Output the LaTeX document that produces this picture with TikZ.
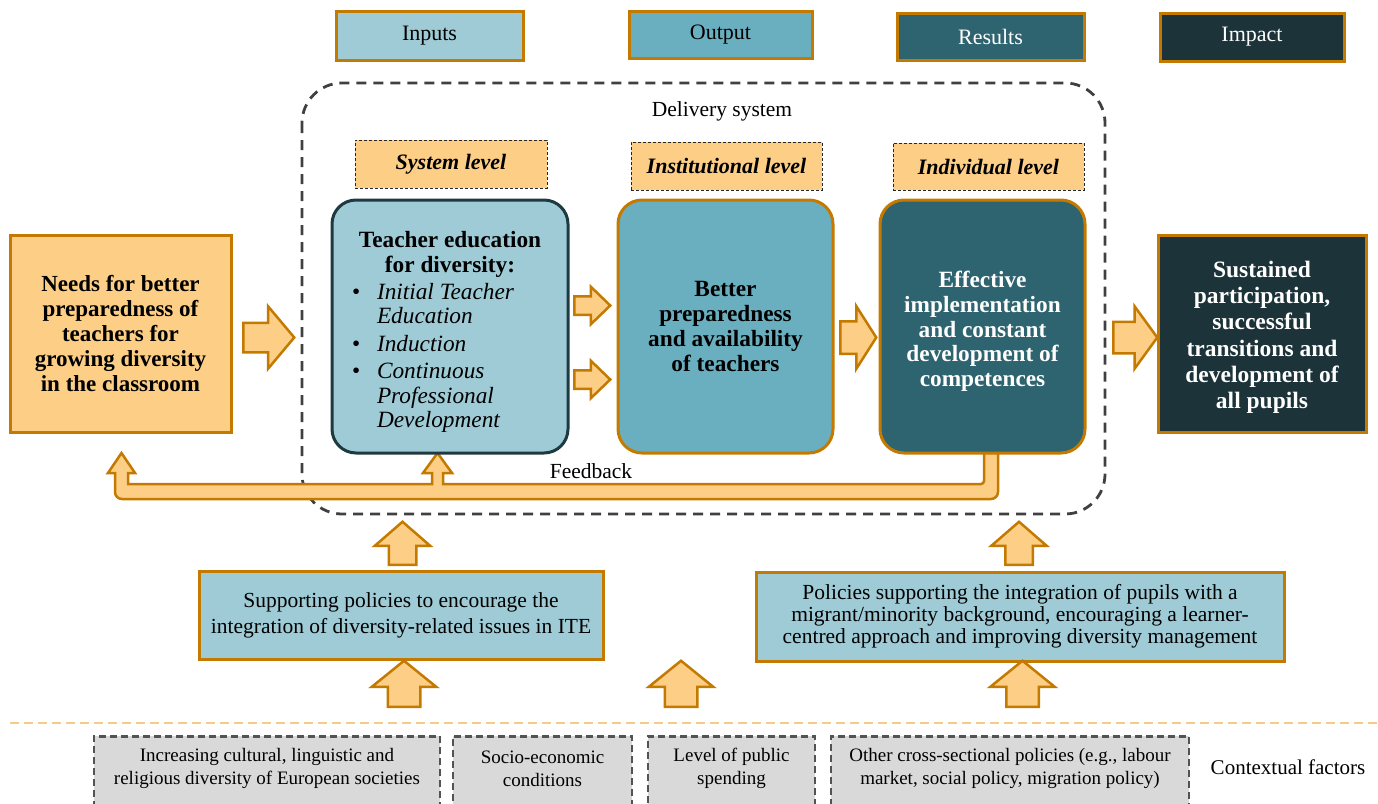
\documentclass[tikz,border=0pt]{standalone}
\usepackage{fontspec}
\setmainfont{Liberation Serif}
\usetikzlibrary{shapes.arrows,calc}
\definecolor{cOr}{HTML}{C47A00}
\definecolor{cLt}{HTML}{FCCE86}
\definecolor{cIn}{HTML}{9ECBD6}
\definecolor{cOut}{HTML}{6AAFC0}
\definecolor{cRes}{HTML}{2E6370}
\definecolor{cImp}{HTML}{1D333A}
\definecolor{cTb}{HTML}{1E3A40}
\definecolor{cDash}{HTML}{404040}
\definecolor{cGray}{HTML}{D9D9D9}
\definecolor{cSep}{HTML}{F7C98A}
\tikzset{
  box/.style={draw=cOr, line width=3pt, inner sep=0pt, align=center},
  legendbox/.style={box, font=\fontsize{22}{24}\selectfont},
  levelbox/.style={draw=black!85, fill=cLt, line width=0.8pt, dash pattern=on 3pt off 2pt, inner sep=0pt, font=\fontsize{22}{24}\selectfont\bfseries\itshape},
  mainbox/.style={box, rounded corners=24pt, font=\fontsize{23.3}{24.7}\selectfont\bfseries},
  sidebox/.style={box, font=\fontsize{23}{25}\selectfont\bfseries},
  polbox/.style={box, fill=cIn, font=\fontsize{21.5}{22}\selectfont},
  ctxbox/.style={draw=cDash!90, fill=cGray, line width=2.5pt, dash pattern=on 7pt off 4pt, inner sep=0pt, align=center},
  ctxtext/.style={align=center, inner sep=0pt, font=\fontsize{19}{23}\selectfont},
  barrow/.style={single arrow, draw=cOr, fill=cLt, line width=2.5pt, inner xsep=0pt, anchor=tail},
}
\begin{document}
\begin{tikzpicture}[x=1pt,y=-1pt]
\useasboundingbox (0,0) rectangle (1378,803);
\clip (0,0) rectangle (1378,803);
% legend
\node[legendbox, fill=cIn, minimum width=187pt, minimum height=49pt] (inputs) at (429.5,35.5) {Inputs};
\node[legendbox, fill=cOut, minimum width=183pt, minimum height=47pt] (output) at (720.5,34.5) {Output};
\node[legendbox, fill=cRes, text=white, minimum width=187pt, minimum height=47pt] (results) at (990.5,36.5) {Results};
\node[legendbox, fill=cImp, text=white, minimum width=184pt, minimum height=48pt] (impact) at (1252,37) {Impact};
% delivery system
\draw[cDash, line width=2.8pt, dash pattern=on 10pt off 7pt, rounded corners=40pt] (302,83) rectangle (1105,514);
\node[font=\fontsize{21.5}{24}\selectfont] (deliv) at (722,111) {Delivery system};
% levels
\node[levelbox, minimum width=192pt, minimum height=48pt] (lsys) at (451,164) {System level};
\node[levelbox, minimum width=191pt, minimum height=48pt] (linst) at (726.5,166) {Institutional level};
\node[levelbox, minimum width=191pt, minimum height=47pt] (lind) at (988.5,166.5) {Individual level};
% feedback band
\draw[cOr, fill=cLt, line width=2.5pt, line join=miter]
  (998,452) [rounded corners=7pt] -- (998,499) -- (115,499) [sharp corners] -- (115,473) -- (108,473) -- (121.5,453) -- (135,473) -- (128,473)
  -- (128,484) -- (432,484) -- (432,473) -- (423,473) -- (437.5,453) -- (452,473) -- (443,473) -- (443,484)
  [rounded corners=3pt] -- (984,484) [sharp corners] -- (984,452);
\node[font=\fontsize{21.5}{24}\selectfont] (fblabel) at (591,471) {Feedback};
% main boxes
\node[mainbox, draw=cTb, fill=cIn, minimum width=236pt, minimum height=253pt] (teacher) at (450,326.5) {%
  \parbox{196pt}{\centering\rule{0pt}{27pt}Teacher education\\for diversity:\par
  \raggedright\mdseries\itshape
  \vspace{2.5pt}\makebox[25pt][l]{\upshape\textbullet}Initial Teacher\\\hspace*{25pt}Education\par
  \vspace{2.5pt}\makebox[25pt][l]{\upshape\textbullet}Induction\par
  \vspace{2.5pt}\makebox[25pt][l]{\upshape\textbullet}Continuous\\\hspace*{25pt}Professional\\\hspace*{25pt}Development\par}};
\node[mainbox, fill=cOut, minimum width=215pt, minimum height=253pt] (better) at (725.5,326.5) {Better\\preparedness\\and availability\\of teachers};
\node[mainbox, fill=cRes, text=white, minimum width=205pt, minimum height=253pt] (effective) at (982.5,326.5) {\rule{0pt}{26pt}Effective\\implementation\\and constant\\development of\\competences};
\node[sidebox, fill=cLt, minimum width=221pt, minimum height=197pt] (needs) at (120.5,333.5) {Needs for better\\preparedness of\\teachers for\\growing diversity\\in the classroom};
\node[sidebox, fill=cImp, text=white, minimum width=208pt, minimum height=197pt, font=\fontsize{23.5}{26.2}\selectfont\bfseries] (sust) at (1262,333.5) {\rule{0pt}{24pt}Sustained\\participation,\\successful\\transitions and\\development of\\all pupils};
% horizontal block arrows
\node[barrow, minimum height=51pt, inner ysep=13.5pt, single arrow head extend=16.5pt, single arrow tip angle=100] (a1) at (242,337.5) {};
\node[barrow, minimum height=36pt, inner ysep=8pt, single arrow head extend=9.5pt, single arrow tip angle=88] (a2) at (573,305.5) {};
\node[barrow, minimum height=36pt, inner ysep=8pt, single arrow head extend=9.5pt, single arrow tip angle=88] (a3) at (573,379.5) {};
\node[barrow, minimum height=36pt, inner ysep=15pt, single arrow head extend=15pt, single arrow tip angle=115] (a4) at (839,337.5) {};
\node[barrow, minimum height=44pt, inner ysep=14.5pt, single arrow head extend=15.5pt, single arrow tip angle=108] (a5) at (1112,337.5) {};
% policies
\node[polbox, fill=cIn, minimum width=404pt, minimum height=88pt, font=\fontsize{21.5}{26}\selectfont] (polL) at (401,615) {Supporting policies to encourage the\\integration of diversity-related issues in ITE};
\node[polbox, minimum width=528pt, minimum height=89pt] (polR) at (1020,616.5) {Policies supporting the integration of pupils with a\\migrant/minority background, encouraging a learner-\\centred approach and improving diversity management};
% up arrows to delivery system
\node[barrow, rotate=90, minimum height=43pt, inner ysep=12.5pt, single arrow head extend=14pt, single arrow tip angle=98] (u1) at (402.5,566) {};
\node[barrow, rotate=90, minimum height=43pt, inner ysep=12.5pt, single arrow head extend=14pt, single arrow tip angle=98] (u2) at (1019,566) {};
% up arrows from context
\node[barrow, rotate=90, minimum height=46pt, inner ysep=15pt, single arrow head extend=16pt, single arrow tip angle=102] (b1) at (404,708) {};
\node[barrow, rotate=90, minimum height=46pt, inner ysep=15pt, single arrow head extend=16pt, single arrow tip angle=102] (b2) at (681,708) {};
\node[barrow, rotate=90, minimum height=46pt, inner ysep=15pt, single arrow head extend=16pt, single arrow tip angle=102] (b3) at (1022.5,708) {};
% separator
\draw[cSep, line width=1.2pt, dash pattern=on 9pt off 5pt] (10,723) -- (1378,723);
% contextual factors
\node[ctxbox, minimum width=346pt, minimum height=90pt, anchor=north] (c1) at (267,735) {};
\node[ctxbox, minimum width=179pt, minimum height=90pt, anchor=north] (c2) at (542.5,735) {};
\node[ctxbox, minimum width=167pt, minimum height=90pt, anchor=north] (c3) at (731.5,735) {};
\node[ctxbox, minimum width=358pt, minimum height=90pt, anchor=north] (c4) at (1010,735) {};
\node[ctxtext] (t1) at (267,768.5) {Increasing cultural, linguistic and\\religious diversity of European societies};
\node[ctxtext] (t2) at (542.5,768.5) {Socio-economic\\conditions};
\node[ctxtext] (t3) at (731.5,768.5) {Level of public\\spending};
\node[ctxtext] (t4) at (1010,768.5) {Other cross-sectional policies (e.g., labour\\market, social policy, migration policy)};
\node[font=\fontsize{21}{24}\selectfont] (ctx) at (1288,767) {Contextual factors};
\end{tikzpicture}
\end{document}
